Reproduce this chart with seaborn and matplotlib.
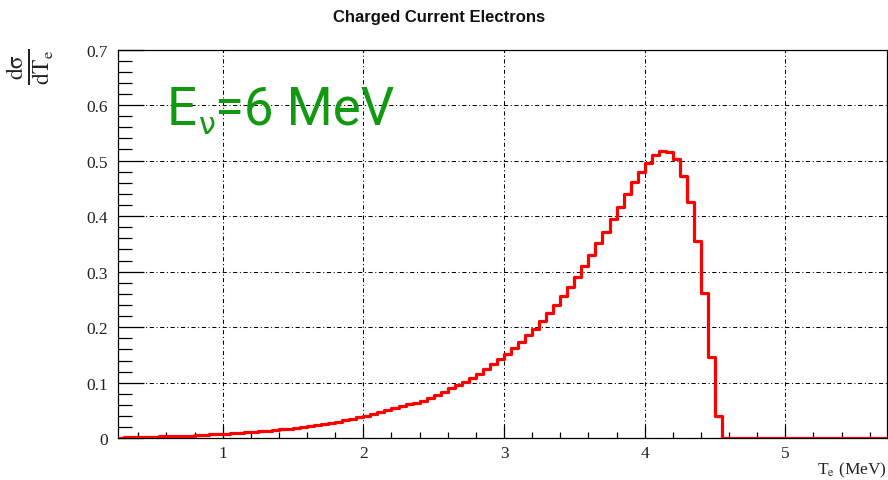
import numpy as np
import pandas as pd
import matplotlib
matplotlib.use("Agg")
import matplotlib.pyplot as plt
import seaborn as sns
from matplotlib.ticker import MultipleLocator, FuncFormatter

# Differential cross section of charged-current electrons, 0.05 MeV bins from 0.25 MeV
bin_width = 0.05
t_low, t_high = 0.25, 5.75
dsigma_dT = [
    0.000, 0.002, 0.002, 0.003, 0.003, 0.003, 0.004, 0.004, 0.005, 0.005,
    0.005, 0.006, 0.006, 0.007, 0.007, 0.008, 0.009, 0.010, 0.011, 0.012,
    0.013, 0.014, 0.015, 0.016, 0.017, 0.018, 0.020, 0.022, 0.024, 0.026,
    0.028, 0.030, 0.033, 0.035, 0.038, 0.041, 0.044, 0.047, 0.051, 0.054,
    0.058, 0.061, 0.064, 0.068, 0.073, 0.078, 0.084, 0.090, 0.096, 0.102,
    0.108, 0.116, 0.124, 0.133, 0.142, 0.152, 0.163, 0.174, 0.186, 0.197,
    0.211, 0.226, 0.240, 0.256, 0.272, 0.291, 0.310, 0.330, 0.352, 0.372,
    0.394, 0.417, 0.440, 0.462, 0.480, 0.496, 0.510, 0.518, 0.515, 0.503,
    0.473, 0.426, 0.355, 0.262, 0.146, 0.040,
    0.0, 0.0, 0.0, 0.0, 0.0, 0.0, 0.0, 0.0, 0.0, 0.0, 0.0, 0.0,
    0.0, 0.0, 0.0, 0.0, 0.0, 0.0, 0.0, 0.0, 0.0, 0.0, 0.0, 0.0,
]
x_ticks = [1, 2, 3, 4, 5]
y_ticks = [0, 0.1, 0.2, 0.3, 0.4, 0.5, 0.6, 0.7]

title = "Charged Current Electrons"
x_title = r"T$_{\rm e}$ (MeV)"
y_title = r"$\frac{\mathrm{dσ}}{\mathrm{dT}_{\mathrm{e}}}$"
energy_symbol, energy_sub, energy_value = "E", "ν", "=6 MeV"

n_bins = len(dsigma_dT)
centers = t_low + bin_width * (np.arange(n_bins) + 0.5)
df = pd.DataFrame({"T": centers, "dsigma": dsigma_dT})

sns.set_style("white")
plt.rcParams["font.family"] = ["Liberation Serif", "DejaVu Serif"]
plt.rcParams["mathtext.fontset"] = "stix"

W, H = 888, 481
fig = plt.figure(figsize=(W / 100, H / 100), dpi=100)
left, right, top, bottom = 117.5, 887.3, 50.5, 439.3
ax = fig.add_axes([left / W, 1 - bottom / H, (right - left) / W, (bottom - top) / H])

sns.histplot(data=df, x="T", weights="dsigma", bins=n_bins,
             binrange=(t_low, t_high), element="step", fill=False,
             color="#ff0000", linewidth=2.3, ax=ax, zorder=3)

ax.set_xlim(0.252, 5.725)
ax.set_ylim(0, 0.7)
ax.set_xlabel("")
ax.set_ylabel("")

ax.xaxis.set_major_locator(plt.FixedLocator(x_ticks))
ax.xaxis.set_minor_locator(MultipleLocator(0.2))
ax.yaxis.set_major_locator(plt.FixedLocator(y_ticks))
ax.yaxis.set_minor_locator(MultipleLocator(0.02))
ax.yaxis.set_major_formatter(FuncFormatter(lambda v, p: "0" if abs(v) < 1e-9 else f"{v:.1f}"))
ax.xaxis.set_major_formatter(FuncFormatter(lambda v, p: f"{v:.0f}"))

ax.tick_params(axis="both", which="both", direction="in", colors="black",
               labelcolor="#222222", labelsize=12.5, width=0.9,
               left=True, bottom=True, top=False, right=False)
ax.tick_params(axis="y", which="major", length=19, pad=7)
ax.tick_params(axis="y", which="minor", length=10)
ax.tick_params(axis="x", which="major", length=9, pad=5)
ax.tick_params(axis="x", which="minor", length=4.5)

for s in ax.spines.values():
    s.set_color("black")
    s.set_linewidth(0.9)
    s.set_visible(True)

ax.grid(True, which="major", color="black", linestyle=(0, (4, 2.5, 1, 2.5)),
        linewidth=0.75)
ax.set_axisbelow(True)

fig.text(439 / W, 1 - 17.5 / H, title, ha="center", va="center",
         family=["Liberation Sans", "DejaVu Sans"], fontweight="bold",
         fontsize=12, color="#111111")
fig.text(887 / W, 1 - 470 / H, x_title, ha="right", va="center",
         fontsize=12.5, color="#222222")
fig.text(31 / W, 1 - 67 / H, y_title, ha="center", va="center",
         rotation=90, fontsize=24, color="#222222")

green = "#119911"
fig.text(167 / W, 1 - 125 / H, energy_symbol, ha="left", va="baseline",
         fontsize=38, color=green, family=["Roboto", "DejaVu Sans"])
fig.text(199 / W, 1 - 134 / H, energy_sub, ha="left", va="baseline",
         fontsize=22, color=green, family=["DejaVu Sans"])
fig.text(215 / W, 1 - 125 / H, energy_value, ha="left", va="baseline",
         fontsize=38, color=green, family=["Roboto", "DejaVu Sans"])

fig.savefig("out.png", dpi=100)
